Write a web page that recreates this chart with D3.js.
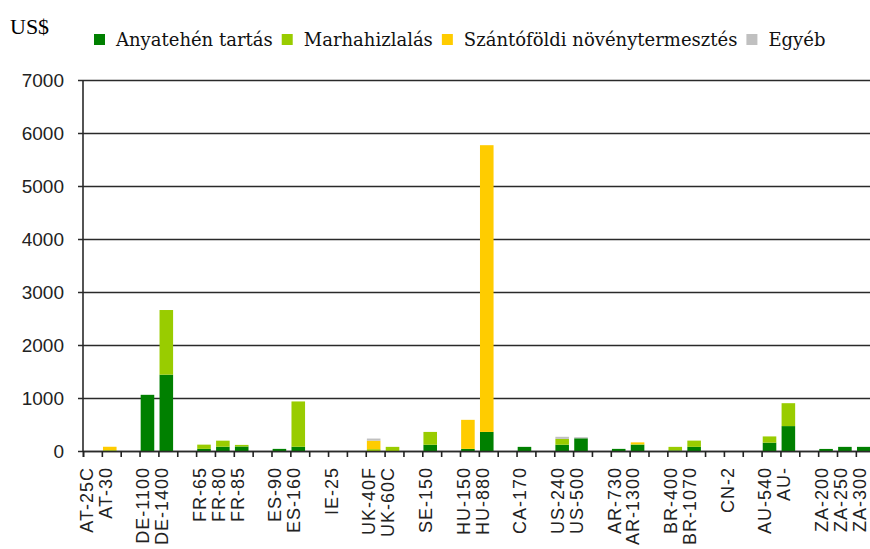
<!DOCTYPE html>
<html>
<head>
<meta charset="utf-8">
<script src="https://cdn.jsdelivr.net/npm/d3@7"></script>
<style>
  body { margin:0; background:#fff; }
  svg { display:block; }
</style>
</head>
<body>
<div id="chart-area"></div>
<script>
// categories, "" = empty slot between countries
const categories = ["AT-25C","AT-30","","DE-1100","DE-1400","","FR-65","FR-80","FR-85","","ES-90","ES-160","","IE-25","","UK-40F","UK-60C","","SE-150","","HU-150","HU-880","","CA-170","","US-240","US-500","","AR-730","AR-1300","","BR-400","BR-1070","","CN-2","","AU-540","AU-","","ZA-200","ZA-250","ZA-300"];

const seriesNames = ["Anyatehén tartás","Marhahizlalás","Szántóföldi növénytermesztés","Egyéb"];
const seriesColors = ["#008000","#99CC00","#FFCC00","#C0C0C0"];

const anyatehen = [0,0,0,1060,1440,0,40,80,85,0,40,80,0,0,0,0,0,0,118,0,40,360,0,78,0,118,240,0,40,118,0,10,78,0,0,0,157,470,0,39,78,78];
const marhahizlalas = [0,15,0,0,1220,0,80,115,30,0,0,855,0,0,0,35,78,0,242,0,0,0,0,0,0,110,0,0,0,10,0,68,118,0,0,0,118,432,0,0,0,0];
const szantofoldi = [0,65,0,0,0,0,0,0,0,0,0,0,0,0,0,160,0,0,0,0,548,5410,0,0,0,0,0,0,0,35,0,0,0,0,0,0,0,0,0,0,0,0];
const egyeb = [0,0,0,0,0,0,0,0,0,0,0,0,0,0,0,40,0,0,0,0,0,0,0,0,0,40,20,0,0,0,0,0,0,0,0,0,0,0,0,0,0,0];

const yTicks = [0,1000,2000,3000,4000,5000,6000,7000];

const margin = { left:83, top:80 };
const W = 870, H = 549;
const slot = 18.85;
const width = categories.length * slot,
    height = 371;

const svg = d3.select("#chart-area")
    .append("svg")
    .attr("width", W)
    .attr("height", H);

// unit label
svg.append("text")
    .attr("x", 10)
    .attr("y", 34)
    .attr("font-family", "Liberation Serif")
    .attr("font-size", "22px")
    .attr("fill", "#000")
    .text("US$");

// legend
const legend = svg.append("g").attr("transform", "translate(94, 0)");
let lx = 0;
seriesNames.forEach(function(name, i){
    const item = legend.append("g").attr("transform", "translate(" + lx + ",0)");
    item.append("rect")
        .attr("x", 0).attr("y", 34)
        .attr("width", 11).attr("height", 11)
        .attr("fill", seriesColors[i]);
    const t = item.append("text")
        .attr("x", 22).attr("y", 46)
        .attr("font-family", "DejaVu Serif")
        .attr("font-size", "18px")
        .attr("fill", "#111")
        .text(name);
    lx += 22 + t.node().getComputedTextLength() + 9;
});

const g = svg.append("g")
    .attr("transform", "translate(" + margin.left + ", " + margin.top + ")");

const idx = d3.range(categories.length);

const x = d3.scaleBand()
    .domain(idx)
    .range([0, width]);

const xEdge = d3.scaleLinear()
    .domain([0, categories.length])
    .range([0, width]);

const y = d3.scaleLinear()
    .domain([0, 7000])
    .range([height, 0]);

// gridlines + y axis
const yAxisCall = d3.axisLeft(y)
    .tickValues(yTicks)
    .tickSize(-width - 10)
    .tickPadding(14)
    .tickFormat(d3.format("d"));
const yAxis = g.append("g")
    .attr("class", "y-axis")
    .call(yAxisCall);
yAxis.select(".domain").remove();
yAxis.selectAll(".tick line")
    .attr("x1", -5)
    .attr("stroke", "#2a2a2a")
    .attr("stroke-width", 1.6);
yAxis.selectAll(".tick text")
    .attr("x", -19)
    .attr("font-family", "Liberation Sans")
    .attr("font-size", "19px")
    .attr("fill", "#222");

g.append("line")
    .attr("x1", 0).attr("x2", 0)
    .attr("y1", 0).attr("y2", height)
    .attr("stroke", "#2a2a2a")
    .attr("stroke-width", 1.6);

// stacked bars
const table = idx.map(function(i){
    return { i:i, a:anyatehen[i], m:marhahizlalas[i], s:szantofoldi[i], e:egyeb[i] };
});
const stack = d3.stack().keys(["a","m","s","e"]);
const layers = stack(table);

g.selectAll(".layer")
    .data(layers)
    .enter()
    .append("g")
        .attr("class", "layer")
        .attr("fill", function(d, i){ return seriesColors[i]; })
    .selectAll("rect")
    .data(function(d){ return d; })
    .enter()
    .append("rect")
        .attr("x", function(d){ return x(d.data.i) + x.bandwidth() * 0.06; })
        .attr("width", x.bandwidth() * 0.72)
        .attr("y", function(d){ return y(d[1]); })
        .attr("height", function(d){ return y(d[0]) - y(d[1]); });

// x axis, ticks between slots
const xAxisCall = d3.axisBottom(xEdge)
    .tickValues(d3.range(categories.length + 1))
    .tickSize(6)
    .tickFormat("");
const xAxis = g.append("g")
    .attr("class", "x axis")
    .attr("transform", "translate(0, " + height + ")")
    .call(xAxisCall);
xAxis.select(".domain")
    .attr("stroke", "#2a2a2a")
    .attr("stroke-width", 1.6);
xAxis.selectAll(".tick line")
    .attr("stroke", "#222")
    .attr("stroke-width", 1.6);

// category labels
g.append("g")
    .attr("class", "x-labels")
    .selectAll("text")
    .data(idx.filter(function(i){ return categories[i] !== ""; }))
    .enter()
    .append("text")
        .attr("transform", function(i){
            return "translate(" + (x(i) + x.bandwidth() * 0.18) + "," + (height + 16) + ") rotate(-90)";
        })
        .attr("dy", "0.35em")
        .attr("text-anchor", "end")
        .attr("font-family", "Liberation Sans")
        .attr("font-size", "18px")
        .attr("letter-spacing", "1px")
        .attr("fill", "#222")
        .text(function(i){ return categories[i]; });
</script>
</body>
</html>
